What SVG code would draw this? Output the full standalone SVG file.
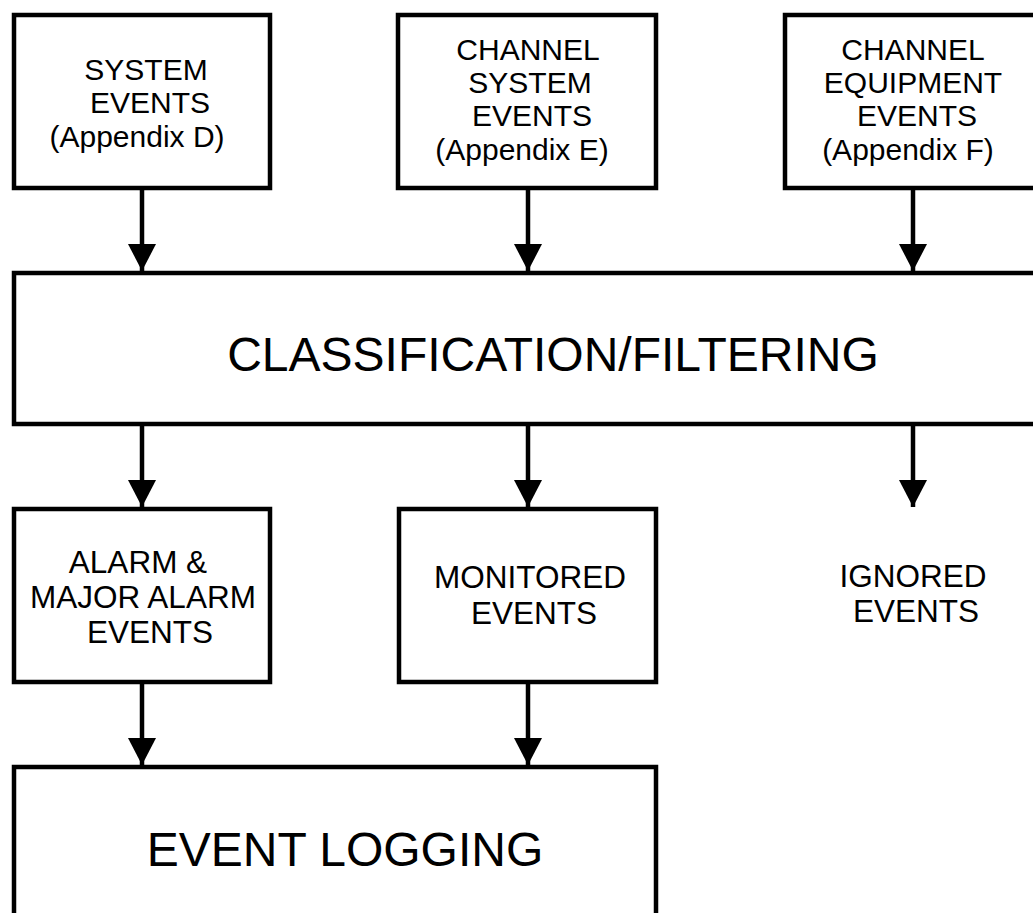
<svg xmlns="http://www.w3.org/2000/svg" width="1033" height="913" viewBox="0 0 1033 913">
  <style>
    .box { fill: #fff; stroke: #000; stroke-width: 4.5; }
    .lbl { font-family: "Liberation Sans", Arial, sans-serif; font-size: 30px; fill: #000; text-anchor: middle; }
    .lbl2 { font-family: "Liberation Sans", Arial, sans-serif; font-size: 31.5px; fill: #000; text-anchor: middle; }
    .big { font-family: "Liberation Sans", Arial, sans-serif; font-size: 48px; fill: #000; text-anchor: middle; }
    .wire { stroke: #000; stroke-width: 4.5; fill: none; }
  </style>
  <defs>
    <marker id="head" viewBox="0 0 27 28" refX="27" refY="14" markerWidth="27" markerHeight="28" markerUnits="userSpaceOnUse" orient="auto">
      <path d="M0,0 L27,14 L0,28 Z" fill="#000"/>
    </marker>
  </defs>
  <rect width="1033" height="913" fill="#fff"/>

  <!-- sources -->
  <g id="system-events">
    <rect class="box" x="14" y="15" width="256" height="173"/>
    <text class="lbl" x="146" y="80">SYSTEM</text>
    <text class="lbl" x="150" y="113">EVENTS</text>
    <text class="lbl" x="137" y="147">(Appendix D)</text>
  </g>
  <g id="channel-system-events">
    <rect class="box" x="398" y="15" width="258" height="173"/>
    <text class="lbl" x="528" y="60">CHANNEL</text>
    <text class="lbl" x="530" y="93">SYSTEM</text>
    <text class="lbl" x="532" y="126">EVENTS</text>
    <text class="lbl" x="522" y="160">(Appendix E)</text>
  </g>
  <g id="channel-equipment-events">
    <rect class="box" x="785" y="15" width="300" height="173"/>
    <text class="lbl" x="913" y="60">CHANNEL</text>
    <text class="lbl" x="913" y="93">EQUIPMENT</text>
    <text class="lbl" x="917" y="126">EVENTS</text>
    <text class="lbl" x="908" y="160">(Appendix F)</text>
  </g>

  <!-- classifier -->
  <g id="classification">
    <rect class="box" x="14" y="273" width="1060" height="151"/>
    <text class="big" x="553" y="371">CLASSIFICATION/FILTERING</text>
  </g>

  <!-- outcomes -->
  <g id="alarm-events">
    <rect class="box" x="14" y="509" width="256" height="173"/>
    <text class="lbl2" x="138" y="573">ALARM &amp;</text>
    <text class="lbl2" x="143" y="608">MAJOR ALARM</text>
    <text class="lbl2" x="150" y="643">EVENTS</text>
  </g>
  <g id="monitored-events">
    <rect class="box" x="399" y="509" width="257" height="173"/>
    <text class="lbl2" x="530" y="588">MONITORED</text>
    <text class="lbl2" x="534" y="624">EVENTS</text>
  </g>
  <g id="ignored-events">
    <text class="lbl2" x="913" y="587">IGNORED</text>
    <text class="lbl2" x="916" y="622">EVENTS</text>
  </g>

  <g id="event-logging">
    <rect class="box" x="14" y="767" width="642" height="200"/>
    <text class="big" x="345" y="866">EVENT LOGGING</text>
  </g>

  <!-- connectors -->
  <g id="connectors" class="wire">
    <line x1="142" y1="190" x2="142" y2="271" marker-end="url(#head)"/>
    <line x1="528" y1="190" x2="528" y2="271" marker-end="url(#head)"/>
    <line x1="913" y1="190" x2="913" y2="271" marker-end="url(#head)"/>
    <line x1="142" y1="426" x2="142" y2="507" marker-end="url(#head)"/>
    <line x1="528" y1="426" x2="528" y2="507" marker-end="url(#head)"/>
    <line x1="913" y1="426" x2="913" y2="507" marker-end="url(#head)"/>
    <line x1="142" y1="684" x2="142" y2="765" marker-end="url(#head)"/>
    <line x1="528" y1="684" x2="528" y2="765" marker-end="url(#head)"/>
  </g>
</svg>
